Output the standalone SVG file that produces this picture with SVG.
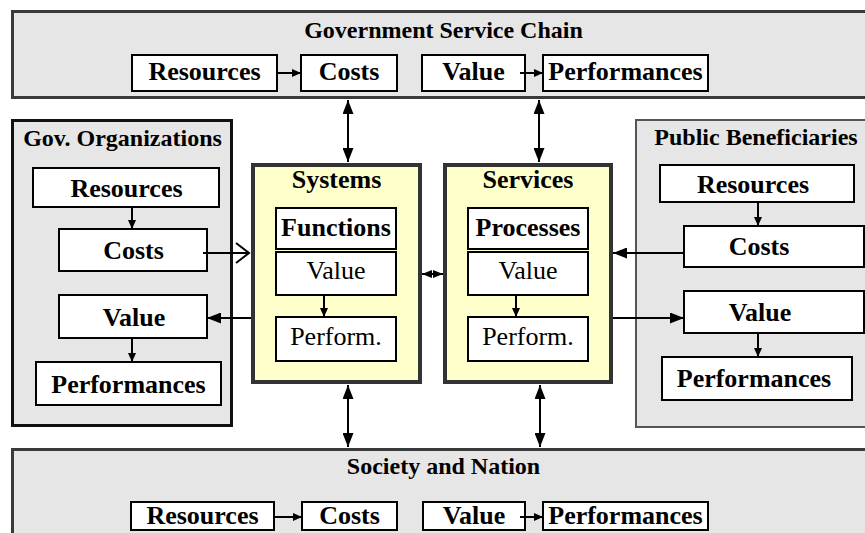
<svg xmlns="http://www.w3.org/2000/svg" width="865" height="533" viewBox="0 0 865 533">
<style>
.panel{fill:#e6e6e6;stroke:#3a3a3a;stroke-width:3}
.core{fill:#ffffcc;stroke:#333;stroke-width:4}
.box{fill:#fff;stroke:#000;stroke-width:2}
.t{font-family:"Liberation Serif","Times New Roman",serif;font-size:26px;text-anchor:middle;fill:#000}
.b{font-weight:bold}
.h{font-family:"Liberation Serif","Times New Roman",serif;font-size:24px;font-weight:bold;text-anchor:middle;fill:#000}
.c{fill:none;stroke:#000;stroke-width:2}
</style>
<defs>
<marker id="big" markerUnits="userSpaceOnUse" viewBox="0 0 14 11" refX="14" refY="5.5" markerWidth="14" markerHeight="11" orient="auto-start-reverse"><path d="M0,0 L14,5.5 L0,11 z" fill="#000"/></marker>
<marker id="sm" markerUnits="userSpaceOnUse" viewBox="0 0 9 8" refX="9" refY="4" markerWidth="9" markerHeight="8" orient="auto-start-reverse"><path d="M0,0 L9,4 L0,8 z" fill="#000"/></marker>
<marker id="tiny" markerUnits="userSpaceOnUse" viewBox="0 0 10 8" refX="10" refY="4" markerWidth="10" markerHeight="8" orient="auto-start-reverse"><path d="M0,0 L10,4 L0,8 z" fill="#000"/></marker>
<marker id="open" markerUnits="userSpaceOnUse" viewBox="-1 -1 16 22" refX="13" refY="10" markerWidth="16" markerHeight="22" orient="auto"><path d="M0,0 L13,10 L0,20" fill="none" stroke="#000" stroke-width="2"/></marker>
</defs>

<g id="gov-service-chain">
<rect class="panel" x="12.5" y="11.5" width="860" height="86"/>
<text class="h" x="443.5" y="38">Government Service Chain</text>
<rect class="box" x="132" y="55" width="145" height="36"/>
<text class="t b" x="204.5" y="80">Resources</text>
<rect class="box" x="301" y="55" width="96" height="36"/>
<text class="t b" x="349" y="80">Costs</text>
<rect class="box" x="422" y="55" width="103" height="36"/>
<text class="t b" x="473.5" y="80">Value</text>
<rect class="box" x="543" y="55" width="165" height="36"/>
<text class="t b" x="625.5" y="80">Performances</text>
</g>

<g id="gov-organizations">
<rect x="12.5" y="120.5" width="219" height="305" fill="#e6e6e6" stroke="#111" stroke-width="3"/>
<text class="h" x="122.5" y="146">Gov. Organizations</text>
<rect class="box" x="33" y="168" width="186" height="39"/>
<text class="t b" x="126.5" y="197">Resources</text>
<rect class="box" x="59" y="229" width="148" height="42"/>
<text class="t b" x="133.5" y="259">Costs</text>
<rect class="box" x="59" y="295" width="148" height="43"/>
<text class="t b" x="134" y="325.5">Value</text>
<rect class="box" x="36" y="362" width="185" height="43"/>
<text class="t b" x="128.5" y="392.5">Performances</text>
</g>

<g id="public-beneficiaries">
<rect x="636" y="120" width="240" height="307" fill="#e6e6e6" stroke="#555" stroke-width="2"/>
<text class="h" x="756" y="145">Public Beneficiaries</text>
<rect class="box" x="660" y="165" width="194" height="37"/>
<text class="t b" x="753" y="192.5">Resources</text>
<rect class="box" x="684" y="226" width="180" height="41"/>
<text class="t b" x="759" y="255">Costs</text>
<rect class="box" x="684" y="291" width="180" height="42"/>
<text class="t b" x="760" y="320.5">Value</text>
<rect class="box" x="662" y="357" width="190" height="43"/>
<text class="t b" x="754" y="387">Performances</text>
</g>

<g id="systems">
<rect class="core" x="253" y="165" width="167" height="217"/>
<text class="t b" x="336.5" y="188">Systems</text>
<rect class="box" x="276" y="208" width="120" height="41"/>
<text class="t b" x="336" y="236">Functions</text>
<rect class="box" x="276" y="252" width="120" height="43"/>
<text class="t" x="336" y="279">Value</text>
<rect class="box" x="276" y="317" width="120" height="44"/>
<text class="t" x="336" y="345">Perform.</text>
</g>

<g id="services">
<rect class="core" x="445" y="165" width="166" height="217"/>
<text class="t b" x="528" y="188">Services</text>
<rect class="box" x="468" y="208" width="120" height="41"/>
<text class="t b" x="528" y="236">Processes</text>
<rect class="box" x="468" y="252" width="120" height="43"/>
<text class="t" x="528" y="279">Value</text>
<rect class="box" x="468" y="317" width="120" height="44"/>
<text class="t" x="528" y="345">Perform.</text>
</g>

<g id="society-nation">
<rect class="panel" x="12.5" y="449.5" width="860" height="100"/>
<text class="h" x="443.5" y="474">Society and Nation</text>
<rect class="box" x="131" y="502" width="143" height="28"/>
<text class="t b" x="202.5" y="524">Resources</text>
<rect class="box" x="302" y="502" width="95" height="28"/>
<text class="t b" x="349.5" y="524">Costs</text>
<rect class="box" x="423" y="502" width="102" height="28"/>
<text class="t b" x="474" y="524">Value</text>
<rect class="box" x="543" y="502" width="165" height="28"/>
<text class="t b" x="625.5" y="524">Performances</text>
</g>

<g id="connectors">
<line class="c" x1="277" y1="73" x2="301" y2="73" marker-end="url(#sm)"/>
<line class="c" x1="520" y1="73" x2="543" y2="73" marker-end="url(#sm)"/>
<line class="c" x1="274" y1="517" x2="302" y2="517" marker-end="url(#sm)"/>
<line class="c" x1="520" y1="517" x2="543" y2="517" marker-end="url(#sm)"/>
<line class="c" x1="132" y1="207" x2="132" y2="229" marker-end="url(#sm)"/>
<line class="c" x1="132" y1="338" x2="132" y2="362" marker-end="url(#sm)"/>
<line class="c" x1="758" y1="202" x2="758" y2="226" marker-end="url(#sm)"/>
<line class="c" x1="758" y1="333" x2="758" y2="357" marker-end="url(#sm)"/>
<line class="c" x1="324" y1="295" x2="324" y2="317" marker-end="url(#sm)"/>
<line class="c" x1="516" y1="295" x2="516" y2="317" marker-end="url(#sm)"/>
<line class="c" x1="348" y1="100" x2="348" y2="162" marker-start="url(#big)" marker-end="url(#big)"/>
<line class="c" x1="539" y1="100" x2="539" y2="162" marker-start="url(#big)" marker-end="url(#big)"/>
<line class="c" x1="348" y1="385" x2="348" y2="447" marker-start="url(#big)" marker-end="url(#big)"/>
<line class="c" x1="540" y1="385" x2="540" y2="447" marker-start="url(#big)" marker-end="url(#big)"/>
<line class="c" x1="422" y1="274" x2="443" y2="274" marker-start="url(#tiny)" marker-end="url(#tiny)"/>
<line class="c" x1="203" y1="253" x2="249" y2="253" marker-end="url(#open)"/>
<line class="c" x1="251" y1="318" x2="207" y2="318" marker-end="url(#big)"/>
<line class="c" x1="684" y1="253" x2="613" y2="253" marker-end="url(#big)"/>
<line class="c" x1="613" y1="318" x2="684" y2="318" marker-end="url(#big)"/>
</g>
</svg>
